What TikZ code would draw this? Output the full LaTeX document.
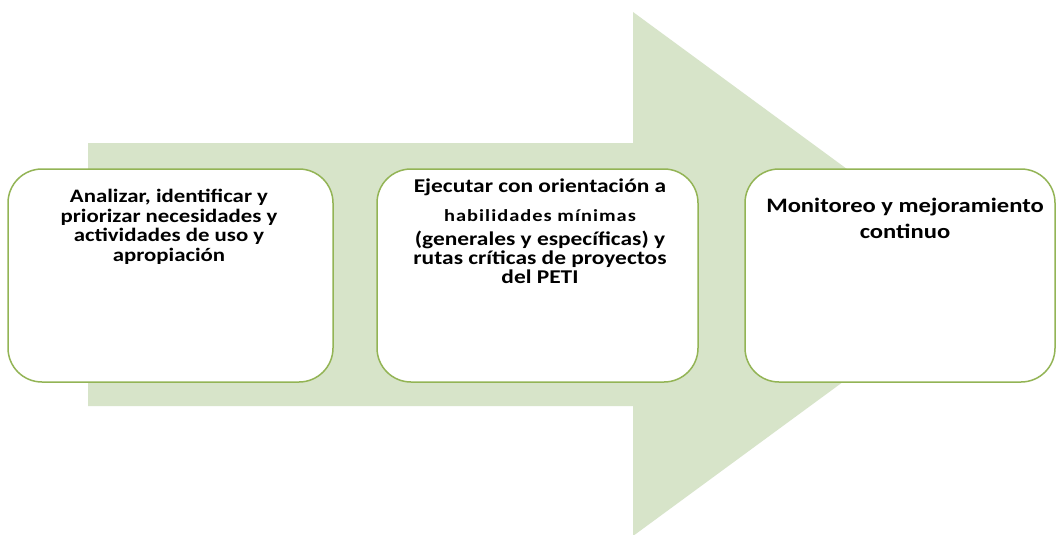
\documentclass[tikz,border=0pt]{standalone}
\usepackage{fontspec}
\setmainfont{Carlito}[FakeStretch=1.2]
\definecolor{arrowfill}{HTML}{D7E4C9}
\definecolor{boxline}{HTML}{93B455}
\tikzset{
  stagebox/.style={draw=boxline, line width=1.5pt, fill=white, rounded corners=34pt},
  stagetext/.style={align=center, inner sep=0pt, anchor=base, text=black,
    font=\fontsize{19.5}{19}\selectfont\bfseries}
}
\begin{document}
\begin{tikzpicture}[x=1pt, y=-1pt]
\useasboundingbox (0,0) rectangle (1057,535);
\fill[white] (0,0) rectangle (1057,535);
\begin{scope}
\clip (0,0) rectangle (1057,535);
\fill[arrowfill] (88,143) -- (633,143) -- (633,12) -- (990,274) -- (633,536) -- (633,406) -- (88,406) -- cycle;
\end{scope}
\draw[stagebox] (8,169) rectangle (333,382);
\draw[stagebox] (377,169) rectangle (698,382);
\draw[stagebox] (745,169) rectangle (1055,382);
\node[stagetext, font=\fontsize{19}{19.5}\selectfont\bfseries] (t1) at (169,261) {Analizar, identificar y\\priorizar necesidades y\\actividades de uso y\\apropiación};
\node[stagetext] (t2) at (540,283) {Ejecutar con orientación a\\[9.6pt]{\fontsize{17}{19}\selectfont\addfontfeature{LetterSpace=6}habilidades mínimas}\\[4.6pt](generales y específicas) y\\rutas críticas de proyectos\\del PETI};
\node[stagetext, font=\fontsize{20.5}{26}\selectfont\bfseries] (t3) at (905,238) {Monitoreo y mejoramiento\\continuo};
\end{tikzpicture}
\end{document}
